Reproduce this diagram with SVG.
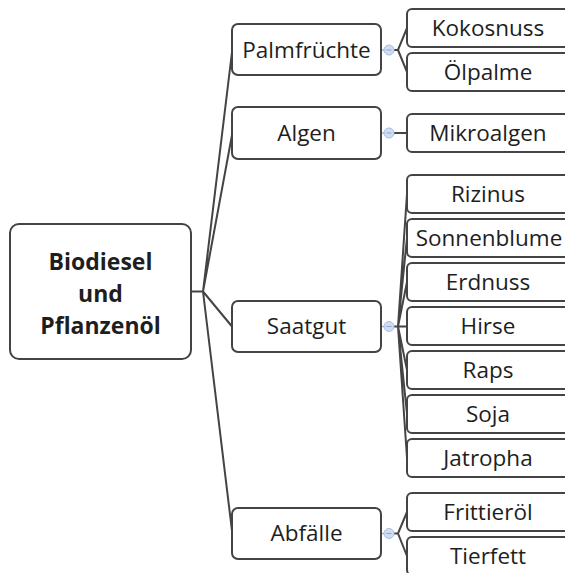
<svg xmlns="http://www.w3.org/2000/svg" width="565" height="573" viewBox="0 0 565 573">
  <style>
    .box { fill: #ffffff; stroke: #444444; stroke-width: 2; }
    .t { font-family: "Open Sans", "Noto Sans", sans-serif; font-size: 22.5px; fill: #1e1e1e; text-anchor: middle; }
    .root { font-weight: bold; font-size: 23px; }
    .link { fill: none; stroke: #444444; stroke-width: 2; }
    .stub { fill: none; stroke: #9fb3d6; stroke-width: 1.5; }
    .tog { fill: #cfdcf2; stroke: #a9bde0; stroke-width: 1; }
    .dash { stroke: #8ea6d2; stroke-width: 1; }
  </style>
  <rect width="565" height="573" fill="#ffffff"/>

  <g id="connectors">
    <!-- root to main branches -->
    <path class="link" d="M191 291.5 H203 L232 52 M203 291.5 L232 135 M203 291.5 L232 326.5 M203 291.5 L232 531"/>
    <!-- branch stubs to toggles -->
    <path class="stub" d="M381 50 H389 M381 133 H389 M381 326.5 H389 M381 533.5 H389"/>
    <!-- toggles to leaves -->
    <path class="link" d="M394 50 H398 L407 28 M398 50 L407 72"/>
    <path class="link" d="M394 133 H407"/>
    <path class="link" d="M394 326.5 H398 L407 194 M398 326.5 L407 238 M398 326.5 L407 282 M398 326.5 H407 M398 326.5 L407 370 M398 326.5 L407 414 M398 326.5 L407 458"/>
    <path class="link" d="M394 533.5 H398 L407 512 M398 533.5 L407 556"/>
    <!-- collapse toggles -->
    <g>
      <circle class="tog" cx="389" cy="50" r="5"/><line class="dash" x1="386.5" y1="50" x2="391.5" y2="50"/>
      <circle class="tog" cx="389" cy="133" r="5"/><line class="dash" x1="386.5" y1="133" x2="391.5" y2="133"/>
      <circle class="tog" cx="389" cy="326.5" r="5"/><line class="dash" x1="386.5" y1="326.5" x2="391.5" y2="326.5"/>
      <circle class="tog" cx="389" cy="533.5" r="5"/><line class="dash" x1="386.5" y1="533.5" x2="391.5" y2="533.5"/>
    </g>
  </g>

  <g id="root">
    <rect class="box" x="10" y="224" width="181" height="135" rx="9"/>
    <text class="t root" x="100.5" y="270">Biodiesel</text>
    <text class="t root" x="100.5" y="302">und</text>
    <text class="t root" x="100.5" y="334">Pflanzenöl</text>
  </g>

  <g id="palmfruechte"><rect class="box" x="232" y="24" width="149" height="51" rx="6"/><text class="t" x="306.5" y="58">Palmfrüchte</text></g>
  <g id="algen"><rect class="box" x="232" y="107" width="149" height="52" rx="6"/><text class="t" x="306.5" y="141">Algen</text></g>
  <g id="saatgut"><rect class="box" x="232" y="301" width="149" height="51" rx="6"/><text class="t" x="306.5" y="334">Saatgut</text></g>
  <g id="abfaelle"><rect class="box" x="232" y="508" width="149" height="51" rx="6"/><text class="t" x="306.5" y="541">Abfälle</text></g>

  <g id="kokosnuss"><rect class="box" x="407" y="9" width="162" height="38" rx="5"/><text class="t" x="488" y="36">Kokosnuss</text></g>
  <g id="oelpalme"><rect class="box" x="407" y="53" width="162" height="38" rx="5"/><text class="t" x="488" y="80">Ölpalme</text></g>
  <g id="mikroalgen"><rect class="box" x="407" y="114" width="162" height="38" rx="5"/><text class="t" x="488" y="141">Mikroalgen</text></g>
  <g id="rizinus"><rect class="box" x="407" y="175" width="162" height="38" rx="5"/><text class="t" x="488" y="202">Rizinus</text></g>
  <g id="sonnenblume"><rect class="box" x="407" y="219" width="162" height="38" rx="5"/><text class="t" x="489" y="246">Sonnenblume</text></g>
  <g id="erdnuss"><rect class="box" x="407" y="263" width="162" height="38" rx="5"/><text class="t" x="488" y="290">Erdnuss</text></g>
  <g id="hirse"><rect class="box" x="407" y="307" width="162" height="38" rx="5"/><text class="t" x="488" y="334">Hirse</text></g>
  <g id="raps"><rect class="box" x="407" y="351" width="162" height="38" rx="5"/><text class="t" x="488" y="378">Raps</text></g>
  <g id="soja"><rect class="box" x="407" y="395" width="162" height="38" rx="5"/><text class="t" x="488" y="422">Soja</text></g>
  <g id="jatropha"><rect class="box" x="407" y="439" width="162" height="38" rx="5"/><text class="t" x="488" y="466">Jatropha</text></g>
  <g id="frittieroel"><rect class="box" x="407" y="493" width="162" height="38" rx="5"/><text class="t" x="488" y="520">Frittieröl</text></g>
  <g id="tierfett"><rect class="box" x="407" y="537" width="162" height="38" rx="5"/><text class="t" x="488" y="564">Tierfett</text></g>
</svg>
